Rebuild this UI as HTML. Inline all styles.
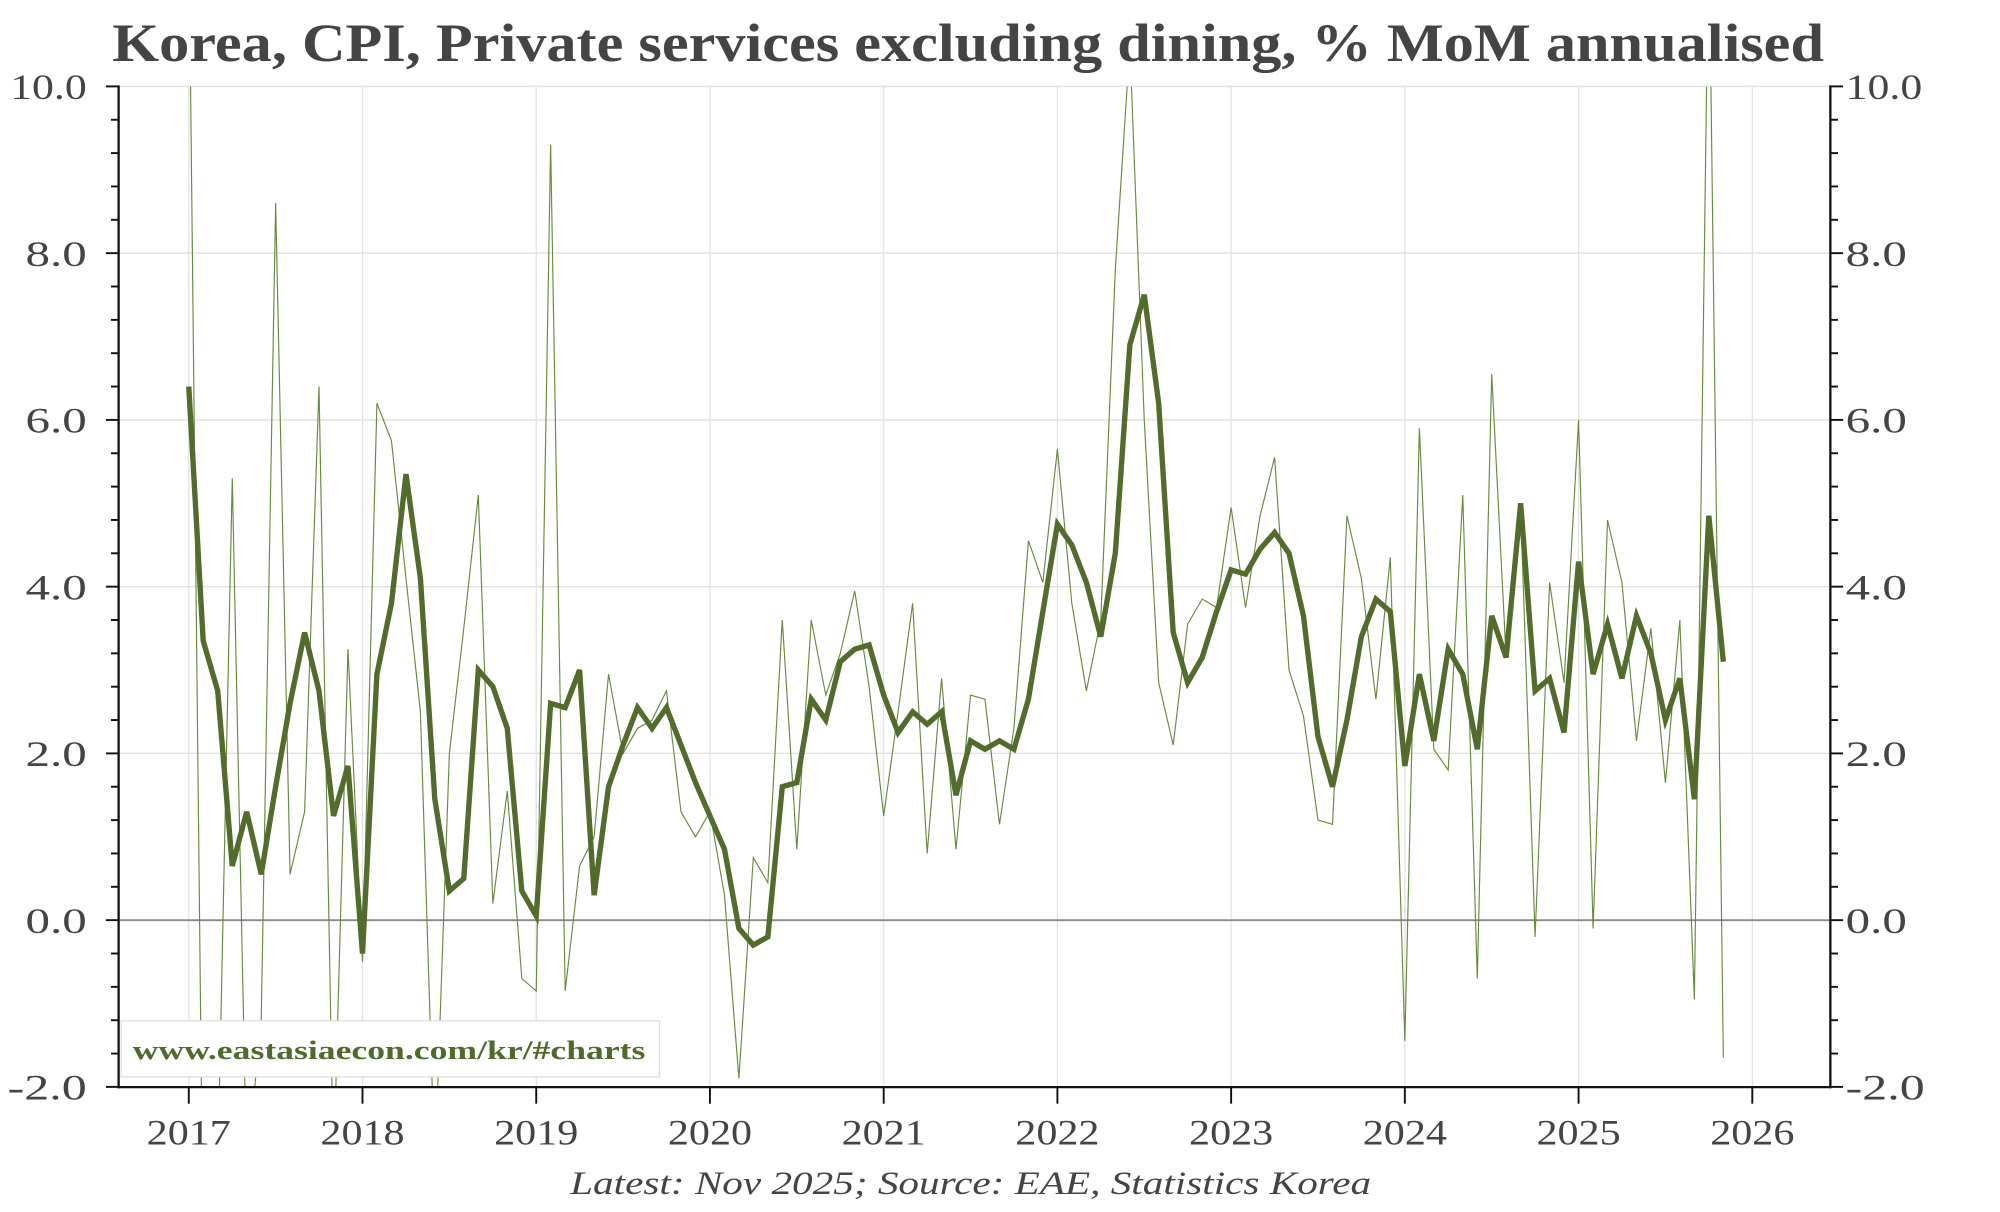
<!DOCTYPE html>
<html><head><meta charset="utf-8">
<style>
html,body{margin:0;padding:0;background:#fff;}
svg{display:block;}
text{font-family:"Liberation Serif",serif;fill:#444;}
</style></head>
<body>
<svg id="c" width="2000" height="1212" viewBox="0 0 1568 951" preserveAspectRatio="none" xmlns="http://www.w3.org/2000/svg">
<defs><clipPath id="pc"><rect x="93" y="68" width="1342" height="785"/></clipPath></defs>
<rect width="1568" height="951" fill="#fff"/>
<text x="88" y="48" font-size="42" font-weight="bold" textLength="1342" lengthAdjust="spacingAndGlyphs">Korea, CPI, Private services excluding dining, % MoM annualised</text>
<g id="grid"></g>
<g id="thin" clip-path="url(#pc)"></g>
<g id="axes"></g>
<rect x="95" y="801" width="422" height="44" fill="#fff" stroke="#ddd" stroke-width="1"/>
<text x="104" y="831" font-size="21" font-weight="bold" textLength="402" lengthAdjust="spacingAndGlyphs" style="fill:#4f6a2a">www.eastasiaecon.com/kr/#charts</text>
<text x="447" y="937" font-size="26" font-style="italic" textLength="628" lengthAdjust="spacingAndGlyphs">Latest: Nov 2025; Source: EAE, Statistics Korea</text>
</svg>
<script>
var L=93,R=1435,T=68,B=853;
function Y(v){return 722-(v)*65.42;}
function X(k){return 148+k*136.2/12;}
var ns="http://www.w3.org/2000/svg";
function el(p,t,a){var e=document.createElementNS(ns,t);for(var k in a)e.setAttribute(k,a[k]);document.getElementById(p).appendChild(e);return e;}
var g="grid";
for(var y=0;y<=9;y++){var x=148+y*136.2;el(g,"line",{x1:x,x2:x,y1:T,y2:B,stroke:"#e2e2e2","stroke-width":1});}
[10,8,6,4,2].forEach(function(v){el(g,"line",{x1:L,x2:R,y1:Y(v),y2:Y(v),stroke:"#e2e2e2","stroke-width":1.2});});
el(g,"line",{x1:L,x2:R,y1:Y(0),y2:Y(0),stroke:"#8a8a8a","stroke-width":1.5});
var thin=[12,-4,-3,5.3,-3,-1.2,8.6,0.55,1.3,6.4,-3,3.25,
-0.5,6.2,5.75,4.1,2.5,-3,2.0,3.5,5.1,0.2,1.55,-0.7,
-0.85,9.3,-0.85,0.65,1.0,2.95,2.0,2.3,2.4,2.75,1.3,1.0,
1.3,0.3,-1.9,0.75,0.45,3.6,0.85,3.6,2.7,3.2,3.95,2.8,
1.25,2.5,3.8,0.8,2.9,0.85,2.7,2.65,1.15,2.3,4.55,4.05,
5.65,3.8,2.75,3.6,7.8,10.5,6.0,2.85,2.1,3.55,3.85,3.75,
4.95,3.75,4.85,5.55,3.0,2.45,1.2,1.15,4.85,4.1,2.65,4.35,
-1.45,5.9,2.05,1.8,5.1,-0.7,6.55,3.15,4.95,-0.2,4.05,2.85,
6.0,-0.1,4.8,4.05,2.15,3.5,1.65,3.6,-0.95,12,-1.65];
var thick=[6.4,3.35,2.75,0.65,1.3,0.55,1.6,2.6,3.45,2.75,1.25,1.85,
-0.4,2.95,3.8,5.35,4.1,1.45,0.35,0.5,3.0,2.8,2.3,0.35,
0.05,2.6,2.55,3.0,0.3,1.6,2.1,2.55,2.3,2.55,2.1,1.65,
1.25,0.85,-0.1,-0.3,-0.2,1.6,1.65,2.65,2.4,3.1,3.25,3.3,
2.7,2.25,2.5,2.35,2.5,1.5,2.15,2.05,2.15,2.05,2.65,3.7,
4.75,4.5,4.05,3.4,4.4,6.9,7.5,6.2,3.45,2.85,3.15,3.7,
4.2,4.15,4.45,4.65,4.4,3.65,2.2,1.6,2.4,3.4,3.85,3.7,
1.85,2.95,2.15,3.25,2.95,2.05,3.65,3.15,5.0,2.75,2.9,2.25,
4.3,2.95,3.55,2.9,3.65,3.2,2.4,2.9,1.45,4.85,3.1];
function path(a){return a.map(function(v,i){return (i?"L":"M")+X(i).toFixed(1)+","+Y(v).toFixed(1);}).join("");}
el("thin","path",{d:path(thin),fill:"none",stroke:"#6a8840","stroke-width":0.9});
el("thin","path",{d:path(thick),fill:"none",stroke:"#536b2c","stroke-width":4.2,"stroke-linejoin":"miter"});
var a="axes";
el(a,"line",{x1:L,x2:L,y1:T-1,y2:B+1,stroke:"#111","stroke-width":1.8});
el(a,"line",{x1:R,x2:R,y1:T-1,y2:B+1,stroke:"#111","stroke-width":1.8});
el(a,"line",{x1:L,x2:R,y1:B,y2:B,stroke:"#111","stroke-width":1.8});
for(var i=0;i<=30;i++){var v=10-i*0.4,yy=Y(v),maj=(i%5==0);
el(a,"line",{x1:L-(maj?10:6),x2:L,y1:yy,y2:yy,stroke:"#111","stroke-width":1.5});
el(a,"line",{x1:R,x2:R+(maj?10:6),y1:yy,y2:yy,stroke:"#111","stroke-width":1.5});
if(maj){var s=v.toFixed(1);var w=s.length==4?60:48;if(s=="-2.0")w=62;
var t=el(a,"text",{x:L-25-w,y:yy+10,"font-size":28,textLength:w,lengthAdjust:"spacingAndGlyphs"});t.textContent=s;
var t2=el(a,"text",{x:R+12,y:yy+10,"font-size":28,textLength:w,lengthAdjust:"spacingAndGlyphs"});t2.textContent=s;}}
for(var y=0;y<=9;y++){var x=148+y*136.2;
el(a,"line",{x1:x,x2:x,y1:B,y2:B+13,stroke:"#111","stroke-width":1.5});
var t=el(a,"text",{x:x-33,y:898,"font-size":28,textLength:66,lengthAdjust:"spacingAndGlyphs"});t.textContent=String(2017+y);}
</script>
</body></html>
